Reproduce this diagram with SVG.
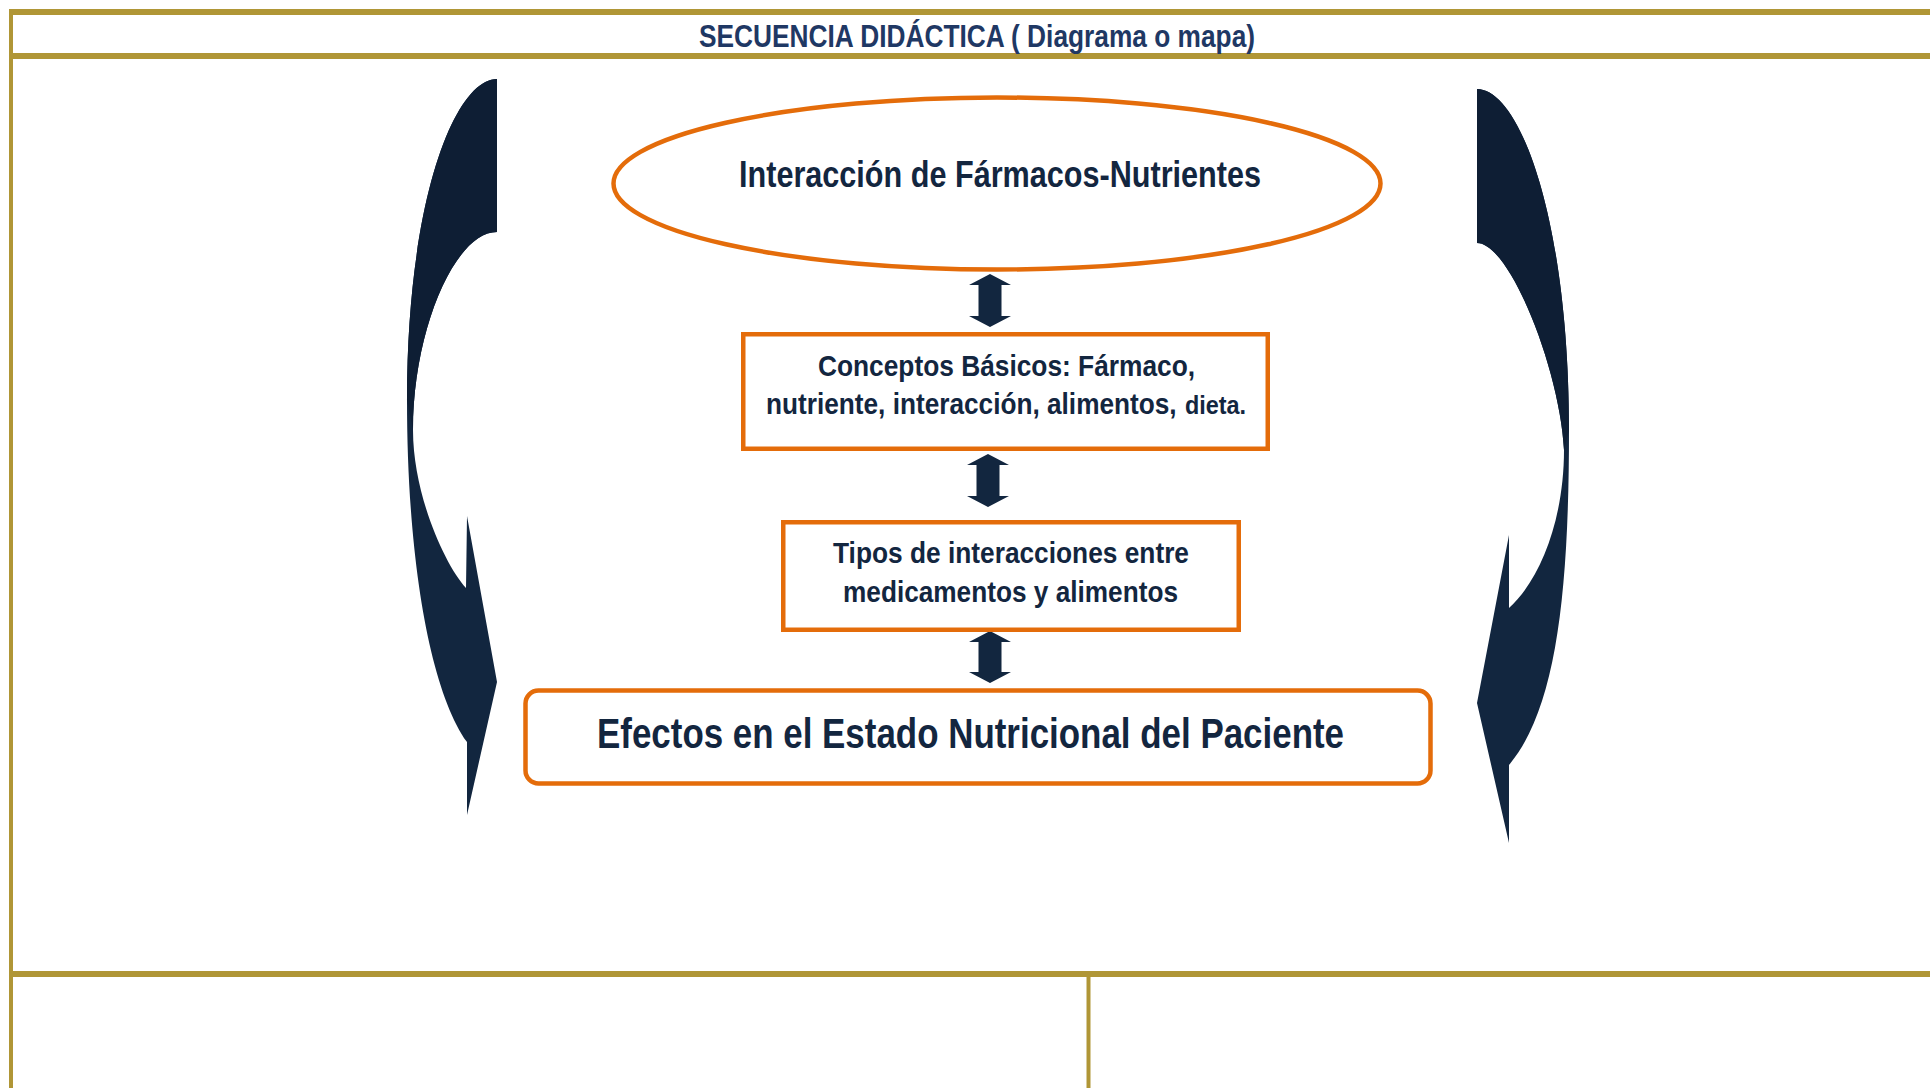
<svg xmlns="http://www.w3.org/2000/svg" width="1930" height="1088" viewBox="0 0 1930 1088">
<style>
.frame{stroke:#B09636;fill:none}
.node{fill:#FFFFFF;stroke:#E46C0A;stroke-width:4.5}
.txt{font-family:"Liberation Sans",Arial,sans-serif;font-weight:bold;fill:#13263F}
.title{font-family:"Liberation Sans",Arial,sans-serif;font-weight:bold;fill:#1F3864}
.dbl{fill:#12263F}
.curve{fill:#12263F}
.curveDark{fill:#0E1E34}
</style>
<rect x="0" y="0" width="1930" height="1088" fill="#FFFFFF"/>
<g id="frame">
<line class="frame" x1="11" y1="9" x2="11" y2="1088" stroke-width="4"/>
<line class="frame" x1="9" y1="12" x2="1930" y2="12" stroke-width="6"/>
<line class="frame" x1="9" y1="56" x2="1930" y2="56" stroke-width="6"/>
<line class="frame" x1="9" y1="974" x2="1930" y2="974" stroke-width="6"/>
<line class="frame" x1="1088.5" y1="974" x2="1088.5" y2="1088" stroke-width="4"/>
<text class="title" x="699" y="46.5" font-size="32" textLength="556" lengthAdjust="spacingAndGlyphs">SECUENCIA DIDÁCTICA ( Diagrama o mapa)</text>
</g>
<g id="left-curved-arrow">
<path class="curve" d="M497,79 C455,79 407,200 407,400 C407,560 430,690 467,742 L467,815 L497,682 L467,516 L466,588 C445,565 413,495 413,430 C413,330 455,232 497,232 Z"/>
<path class="curveDark" d="M497,79 C455,79 407,200 407,400 L413,430 C413,330 455,232 497,232 Z"/>
</g>
<g id="right-curved-arrow">
<path class="curve" d="M1477,89 C1520,89 1569,220 1569,430 C1569,600 1555,710 1509,765 L1509,843 L1477,703 L1509,535 L1509,608 C1540,580 1564,520 1564,450 C1560,370 1510,243 1477,243 Z"/>
<path class="curveDark" d="M1477,89 C1520,89 1569,220 1569,430 L1564,450 C1560,370 1510,243 1477,243 Z"/>
</g>
<g id="connectors">
<path class="dbl" d="M990,274 L1011,285 L1001.5,285 L1001.5,316 L1011,316 L990,327 L969,316 L978.5,316 L978.5,285 L969,285 Z"/>
<path class="dbl" d="M988,454 L1009,465 L999.5,465 L999.5,496 L1009,496 L988,507 L967,496 L976.5,496 L976.5,465 L967,465 Z"/>
<path class="dbl" d="M990,631 L1011,642 L1001.5,642 L1001.5,672 L1011,672 L990,683 L969,672 L978.5,672 L978.5,642 L969,642 Z"/>
</g>
<g id="node-interaccion">
<ellipse class="node" cx="997" cy="183.5" rx="383.5" ry="86" stroke-width="5"/>
<text class="txt" x="739" y="187" font-size="37" textLength="522" lengthAdjust="spacingAndGlyphs">Interacción de Fármacos-Nutrientes</text>
</g>
<g id="node-conceptos">
<rect class="node" x="743.25" y="334.25" width="524.5" height="114.5"/>
<text class="txt" x="818" y="376" font-size="30" textLength="377" lengthAdjust="spacingAndGlyphs">Conceptos Básicos: Fármaco,</text>
<text class="txt" transform="translate(766,414) scale(0.874,1)" x="0" y="0" font-size="30">nutriente, interacción, alimentos,</text>
<text class="txt" transform="translate(1185,414) scale(0.9,1)" x="0" y="0" font-size="26">dieta.</text>
</g>
<g id="node-tipos">
<rect class="node" x="783.25" y="522.25" width="455.5" height="107.5"/>
<text class="txt" x="833" y="563" font-size="29" textLength="356" lengthAdjust="spacingAndGlyphs">Tipos de interacciones entre</text>
<text class="txt" x="843" y="602" font-size="29" textLength="335" lengthAdjust="spacingAndGlyphs">medicamentos y alimentos</text>
</g>
<g id="node-efectos">
<rect class="node" x="525.5" y="690.5" width="905" height="93" rx="13" stroke-width="5"/>
<text class="txt" x="597" y="748" font-size="42" textLength="747" lengthAdjust="spacingAndGlyphs">Efectos en el Estado Nutricional del Paciente</text>
</g>
</svg>
